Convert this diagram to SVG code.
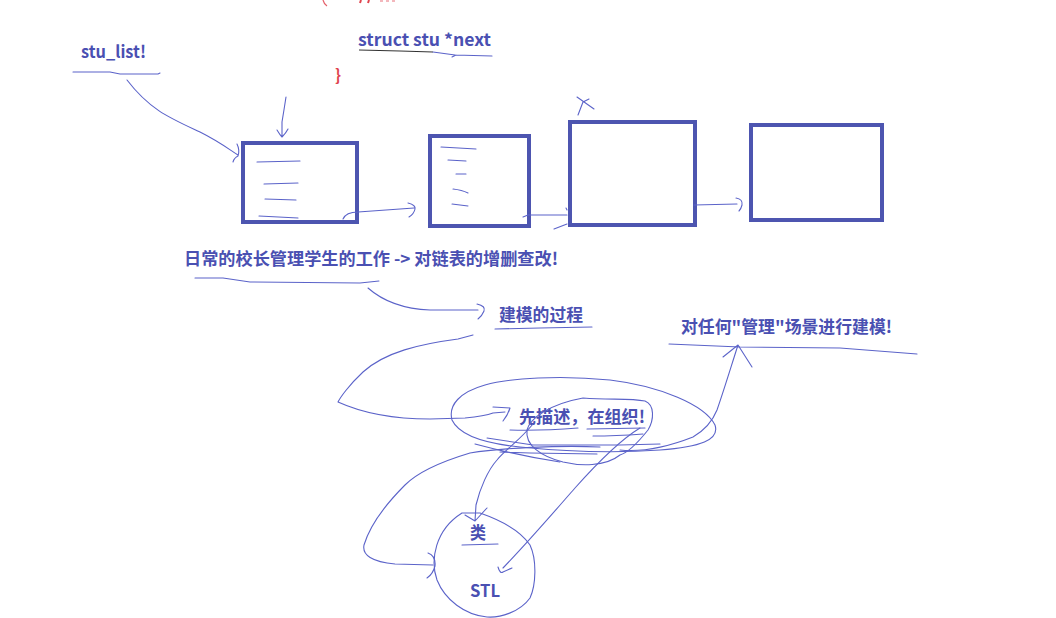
<svg xmlns="http://www.w3.org/2000/svg" width="1056" height="618" viewBox="0 0 1056 618">
<style>
.t{font-family:"Noto Sans CJK SC","Liberation Sans",sans-serif;font-weight:bold;font-size:17px;fill:#4a50b2}
.box{fill:none;stroke:#4d55b0;stroke-width:4}
.s{fill:none;stroke:#5b63c9;stroke-width:1.1;stroke-linecap:round;stroke-linejoin:round}
.l{fill:none;stroke:#9aa0e0;stroke-width:1.4;stroke-linecap:round}
</style>
<rect width="1056" height="618" fill="#ffffff"/>
<!-- red fragments -->
<g id="red">
<path d="M323,0 Q324,4 327,6" fill="none" stroke="#e4606a" stroke-width="1.2"/>
<path d="M361,0 L360,3 M369,0 L368,3" fill="none" stroke="#e0454f" stroke-width="2"/>
<path d="M380,1 L383,1 M386,1 L389,1 M392,1 L395,1" fill="none" stroke="#f0a0a6" stroke-width="1.5"/>
<text x="335" y="81" style="font-family:'Noto Sans CJK SC','Liberation Sans',sans-serif;font-weight:bold;font-size:16px;fill:#e0454f">}</text>
</g>
<g id="n_struct"><text class="t" x="358" y="46" textLength="133" lengthAdjust="spacingAndGlyphs">struct stu *next</text></g>
<g id="n_stulist"><text class="t" x="81" y="58" textLength="65" lengthAdjust="spacingAndGlyphs">stu_list!</text></g>
<g id="n_box1">
<rect class="box" x="243" y="143" width="114" height="79"/>
<path class="s" d="M257,162 L300,161 M264,184 L298,183 M265,199 L296,200 M259,216 L298,218"/>
</g>
<g id="n_box2">
<rect class="box" x="430" y="136" width="99" height="90"/>
<path class="s" d="M441,147 L476,149 M448,160 L466,161 M456,174 L466,174 M453,189 Q462,190 468,193 M452,204 L468,206"/>
</g>
<g id="n_box3"><rect class="box" x="570" y="122" width="125" height="103"/></g>
<g id="n_box4"><rect class="box" x="751" y="125" width="131" height="95"/></g>
<g id="n_daily"><text class="t" x="184" y="265" textLength="374" lengthAdjust="spacingAndGlyphs">日常的校长管理学生的工作 -&gt; 对链表的增删查改!</text></g>
<g id="n_model"><text class="t" x="499" y="321" textLength="84" lengthAdjust="spacingAndGlyphs">建模的过程</text></g>
<g id="n_any"><text class="t" x="681" y="333" textLength="211" lengthAdjust="spacingAndGlyphs">对任何"管理"场景进行建模!</text></g>
<g id="n_desc"><text class="t" x="519" y="423" textLength="126" lengthAdjust="spacingAndGlyphs">先描述，在组织!</text></g>
<g id="n_class"><text class="t" x="470" y="539" textLength="16" lengthAdjust="spacingAndGlyphs">类</text></g>
<g id="n_stl"><text class="t" x="470" y="597" textLength="30" lengthAdjust="spacingAndGlyphs">STL</text></g>
<g id="connectors">
<!-- underlines -->
<path d="M359,50 L400,51 L433,52" fill="none" stroke="#333" stroke-width="1.1"/>
<path class="s" d="M433,52 L455,55 L492,56 M452,57 L456,55"/>
<path class="s" d="M73,72 L110,72 L120,74 L158,74 L160,73"/>
<path class="s" d="M195,278 L223,278 L250,282 L360,283 L379,281"/>
<path class="s" d="M495,329 L540,328 L592,327"/>
<path class="s" d="M669,344 L740,347 L840,348 L917,354"/>
<path class="s" d="M510,430 Q540,431 578,428 M587,429 L645,428 M593,436 Q615,436 643,434"/>
<path class="s" d="M462,545 L498,544"/>
<!-- stu_list arrow -->
<path class="s" d="M127,80 C150,110 170,118 200,132 C220,142 230,150 238,155 M237,144 Q240,150 238,156 M238,156 Q234,158 233,162"/>
<!-- head arrow -->
<path class="s" d="M286,97 Q284,110 282,122 L282,137 M277,130 Q280,135 282,137 Q286,133 288,129"/>
<!-- box1 -> box2 -->
<path class="s" d="M343,219 Q346,212 358,212 L414,208 M408,203 Q416,205 415,209 Q414,214 409,217"/>
<!-- box2 -> box3 -->
<path class="s" d="M523,217 L528,215 L567,215 M554,229 L567,224 M566,208 L567,210"/>
<!-- x above box3 -->
<path class="s" d="M578,115 L583,102 L589,99 M577,97 L594,109"/>
<!-- box3 -> box4 -->
<path class="s" d="M694,205 L737,204 M736,198 Q743,199 742,205 Q741,209 739,211"/>
<!-- daily -> modeling -->
<path class="s" d="M368,288 C385,303 405,309 430,310 L478,310 M477,304 Q486,306 484,311 Q482,316 478,319"/>
<!-- big loop to desc -->
<path class="s" d="M473,335 L458,339 C420,344 385,352 363,372 C348,386 340,398 338,402 C360,412 390,419 430,419 L465,418 Q485,416 493,413 L505,412 M493,407 L510,408 Q508,415 503,421"/>
<!-- ellipses around desc -->
<path class="s" d="M452,420 C448,405 460,392 485,385 C510,378 560,375 610,380 C660,386 705,405 715,425 C720,440 700,447 660,450 C620,453 570,452 520,447 C490,444 460,437 452,420 Z"/>
<path class="s" d="M583,398 C610,400 630,398 645,401 C655,405 654,420 648,430 C640,440 630,452 620,455 C605,467 580,466 563,462 C540,456 525,445 527,430 C530,418 550,404 583,398 Z"/>
<path class="s" d="M487,438 L533,445 L620,445 L660,444 M500,452 L530,453 L597,454 M475,444 Q520,456 560,462"/>
<!-- arrow up to "any" -->
<path class="s" d="M620,450 C640,452 665,448 693,437 C705,430 713,420 717,410 C724,390 730,370 738,345 M723,357 L738,345 L752,367"/>
<!-- desc -> STL -->
<path class="s" d="M640,428 C620,440 600,460 575,488 C560,505 530,540 503,568 M498,567 Q500,574 503,572 Q507,570 512,568"/>
<!-- desc -> class -->
<path class="s" d="M533,424 C520,440 505,450 497,460 C488,470 480,488 476,505 L475,521 M465,515 L475,521 L487,508"/>
<!-- big loop to class circle -->
<path class="s" d="M600,447 C560,445 500,448 470,453 C440,462 418,472 405,485 C385,505 370,525 364,545 C362,555 372,562 395,564 L433,565 M428,553 Q436,556 435,566 Q433,574 427,578"/>
<!-- circle around class/STL -->
<path class="s" d="M462,513 L480,513 C500,520 520,530 530,545 C537,560 536,585 530,598 C520,612 500,618 487,617 C465,615 445,600 437,580 C430,560 435,530 462,513 Z"/>
</g>
</svg>
